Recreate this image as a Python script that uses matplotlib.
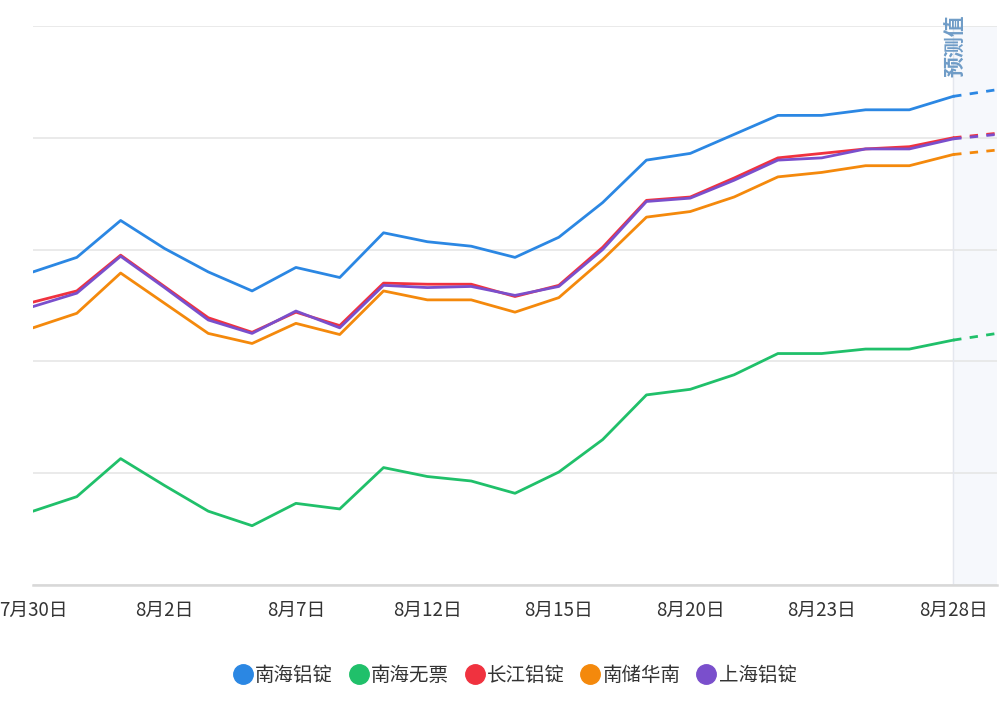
import matplotlib
matplotlib.use("Agg")
import matplotlib.pyplot as plt
from matplotlib.lines import Line2D

plt.rcParams['font.family'] = ['Noto Sans CJK SC', 'DejaVu Sans']

dates = ["7月30日", "7月31日", "8月1日", "8月2日", "8月5日", "8月6日", "8月7日", "8月8日",
         "8月9日", "8月12日", "8月13日", "8月14日", "8月15日", "8月16日", "8月19日", "8月20日",
         "8月21日", "8月22日", "8月23日", "8月26日", "8月27日", "8月28日", "8月29日"]
shown_labels = ["7月30日", "8月2日", "8月7日", "8月12日", "8月15日", "8月20日", "8月23日", "8月28日"]

nanhai_ingot = [14080, 14093, 14126, 14101, 14080, 14063, 14084, 14075, 14115, 14107, 14103, 14093,
                14111, 14142, 14180, 14186, 14203, 14220, 14220, 14225, 14225, 14237, 14243]
nanhai_noinv = [13866, 13879, 13913, 13889, 13866, 13853, 13873, 13868, 13905, 13897, 13893, 13882,
                13901, 13930, 13970, 13975, 13988, 14007, 14007, 14011, 14011, 14019, 14025]
changjiang = [14053, 14063, 14095, 14067, 14039, 14026, 14044, 14032, 14070, 14069, 14069, 14058,
              14068, 14102, 14144, 14147, 14164, 14182, 14186, 14190, 14192, 14200, 14204]
nanchu_south = [14030, 14043, 14079, 14052, 14025, 14016, 14034, 14024, 14063, 14055, 14055, 14044,
                14057, 14091, 14129, 14134, 14147, 14165, 14169, 14175, 14175, 14185, 14189]
shanghai = [14049, 14061, 14094, 14066, 14037, 14025, 14045, 14030, 14068, 14066, 14067, 14059,
            14067, 14100, 14143, 14146, 14162, 14180, 14182, 14190, 14190, 14199, 14203]

series_names = ["南海铝锭", "南海无票", "长江铝锭", "南储华南", "上海铝锭"]
series_vals = [nanhai_ingot, nanhai_noinv, changjiang, nanchu_south, shanghai]
colors = ["#2b87e3", "#20c06a", "#f0323f", "#f4890c", "#7a4fcc"]
forecast_label = "预测值"

fig = plt.figure(figsize=(10, 7.07), dpi=100)
ax = fig.add_axes([0.033, 0.1726, 0.964, 0.7907])

n = len(dates)
x = list(range(n))
last = n - 2  # last actual point

ax.axvspan(last, n - 1, color="#f6f8fc", zorder=0)
ax.axvline(last, color="#e4e7ee", lw=1, zorder=1)

order = [0, 1, 3, 2, 4]
for i in order:
    vals = series_vals[i]
    ax.plot(x[:last + 1], vals[:last + 1], color=colors[i], lw=2, zorder=3, solid_joinstyle='round')
    ax.plot(x[last:], vals[last:], color=colors[i], lw=2, ls=(0, (3, 3)), zorder=3)

ax.set_xlim(0, n - 1)
ax.set_ylim(13800, 14300)
ax.set_yticks([13800, 13900, 14000, 14100, 14200, 14300])
ax.yaxis.grid(True, color="#e6e6e6", lw=1.2)
ax.set_axisbelow(True)
ax.tick_params(axis='y', length=0, labelleft=False)

tick_pos = [dates.index(d) for d in shown_labels]
ax.set_xticks(tick_pos)
ax.set_xticklabels(shown_labels, fontsize=13.5, color="#333333")
ax.tick_params(axis='x', length=0, pad=11)
for s in ["top", "right", "left"]:
    ax.spines[s].set_visible(False)
ax.spines["bottom"].set_color("#d8d8d8")
ax.spines["bottom"].set_linewidth(1.8)

ax.text(last + 0.05, 14310, forecast_label, rotation=90, ha="center", va="top",
        fontsize=15, color="#6f9cc7", zorder=5, clip_on=False, fontweight="bold")

handles = [Line2D([0], [0], marker='o', color='none', markerfacecolor=c, markeredgecolor=c,
                  markersize=14) for c in colors]
fig.legend(handles, series_names, loc="center", bbox_to_anchor=(0.514, 0.045), ncol=5,
           frameon=False, fontsize=14, handletextpad=0.05, columnspacing=0.7,
           labelcolor="#333333", handlelength=1.2)

fig.savefig("out.png", dpi=100)
